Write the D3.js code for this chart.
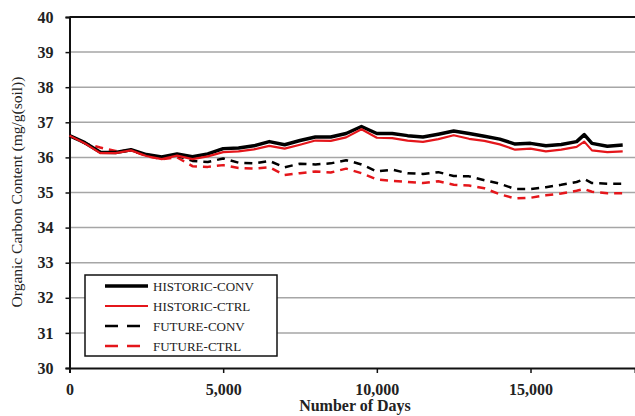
<!DOCTYPE html>
<html><head><meta charset="utf-8">
<script src="https://cdn.jsdelivr.net/npm/d3@7"></script>
<style>body{margin:0;background:#fff}svg{display:block}text{font-family:"Liberation Serif","Times New Roman",serif}</style>
</head><body>
<svg id="c" width="635" height="416"></svg>
<script>
const days = [0,500,1000,1500,2000,2500,3000,3500,4000,4500,5000,5500,6000,6500,7000,7500,8000,8500,9000,9500,10000,10500,11000,11500,12000,12500,13000,13500,14000,14500,15000,15500,16000,16500,16750,17000,17500,18000];
const historicConv = [36.62,36.42,36.15,36.14,36.22,36.08,36.01,36.10,36.02,36.10,36.25,36.27,36.33,36.45,36.36,36.48,36.58,36.58,36.68,36.88,36.68,36.68,36.62,36.58,36.66,36.75,36.68,36.6,36.52,36.38,36.4,36.33,36.37,36.45,36.65,36.4,36.32,36.35];
const historicCtrl = [36.62,36.40,36.12,36.12,36.20,36.04,35.95,36.05,35.95,36.03,36.15,36.17,36.23,36.33,36.25,36.36,36.48,36.47,36.57,36.80,36.56,36.55,36.48,36.44,36.52,36.63,36.53,36.47,36.37,36.22,36.25,36.17,36.22,36.30,36.45,36.20,36.15,36.17];
const futureConv   = [36.62,36.42,36.15,36.14,36.20,36.08,36.00,36.05,35.90,35.87,35.97,35.85,35.83,35.90,35.72,35.82,35.80,35.83,35.92,35.80,35.60,35.65,35.55,35.53,35.58,35.47,35.46,35.35,35.25,35.10,35.10,35.15,35.22,35.30,35.38,35.27,35.25,35.25];
const futureCtrl   = [36.62,36.40,36.28,36.18,36.20,36.04,35.95,36.00,35.75,35.73,35.78,35.70,35.68,35.72,35.50,35.55,35.60,35.57,35.68,35.55,35.37,35.33,35.30,35.27,35.32,35.22,35.20,35.12,34.95,34.83,34.85,34.92,34.97,35.05,35.10,35.02,34.98,34.98];
const seriesNames = ["HISTORIC-CONV","HISTORIC-CTRL","FUTURE-CONV","FUTURE-CTRL"];
const xTicks = [0,5000,10000,15000];
const yTicks = [30,31,32,33,34,35,36,37,38,39,40];

const svg = d3.select("#c");
const L=69.5, R=635, T=17, B=368;
const x = d3.scaleLinear().domain([0,18400]).range([L,R]);
const y = d3.scaleLinear().domain([30,40]).range([B,T]);

// gridlines
svg.append("g").selectAll("line").data(yTicks.filter(v=>v>30&&v<40)).join("line")
  .attr("x1",L).attr("x2",R).attr("y1",d=>y(d)).attr("y2",d=>y(d))
  .attr("stroke","#a6a6a6").attr("stroke-width",1.5);
// top border
svg.append("line").attr("x1",L).attr("x2",R).attr("y1",y(40)).attr("y2",y(40)).attr("stroke","#111").attr("stroke-width",2);

// axes
const yAxis = d3.axisLeft(y).tickValues(yTicks).tickSize(4).tickPadding(12).tickFormat(d3.format("d"));
const gy = svg.append("g").attr("transform",`translate(${L},0)`).call(yAxis);
gy.select(".domain").attr("stroke","#111").attr("stroke-width",2);
gy.selectAll(".tick line").attr("stroke","#111").attr("stroke-width",1.5);
gy.selectAll("text").attr("font-size",16).attr("font-weight","bold").attr("fill","#222").attr("font-family","Liberation Serif");

const xAxis = d3.axisBottom(x).tickValues(xTicks).tickSize(5).tickPadding(11).tickFormat(d3.format(","));
const gx = svg.append("g").attr("transform",`translate(0,${B})`).call(xAxis);
gx.select(".domain").attr("stroke","#111").attr("stroke-width",2);
gx.selectAll(".tick line").attr("stroke","#111").attr("stroke-width",1.5);
gx.selectAll("text").attr("font-size",16).attr("font-weight","bold").attr("fill","#222").attr("font-family","Liberation Serif");

// series
const styles = [
  {data:historicConv,color:"#000",w:3.5,dash:null},
  {data:historicCtrl,color:"#e4161b",w:2.2,dash:null},
  {data:futureConv,color:"#000",w:2.5,dash:"8,6"},
  {data:futureCtrl,color:"#e4161b",w:2.5,dash:"8,6"}
];
const line = d3.line().x((d,i)=>x(days[i])).y(d=>y(d));
[3,2,0,1].forEach(k=>{
  const s=styles[k];
  svg.append("path").datum(s.data).attr("d",line).attr("fill","none")
    .attr("stroke",s.color).attr("stroke-width",s.w).attr("stroke-linejoin","round")
    .attr("stroke-dasharray",s.dash);
});

// legend
const lg = svg.append("g");
lg.append("rect").attr("x",85).attr("y",275).attr("width",192).attr("height",81)
  .attr("fill","#fff").attr("stroke","#111").attr("stroke-width",1.5);
seriesNames.forEach((n,i)=>{
  const s=styles[i], yy=286+i*20;
  lg.append("line").attr("x1",105).attr("x2",148).attr("y1",yy).attr("y2",yy)
    .attr("stroke",s.color).attr("stroke-width",s.w).attr("stroke-dasharray",s.dash?"13,9":null);
  lg.append("text").attr("x",153).attr("y",yy+4.5).attr("font-size",13).attr("fill","#222").text(n);
});

// axis titles
svg.append("text").attr("x",355).attr("y",411).attr("text-anchor","middle")
  .attr("font-size",16).attr("font-weight","bold").attr("fill","#222").text("Number of Days");
svg.append("text").attr("transform","translate(22,192) rotate(-90)").attr("text-anchor","middle")
  .attr("font-size",15.5).attr("fill","#222").text("Organic Carbon Content (mg/g(soil))");
</script>
</body></html>
